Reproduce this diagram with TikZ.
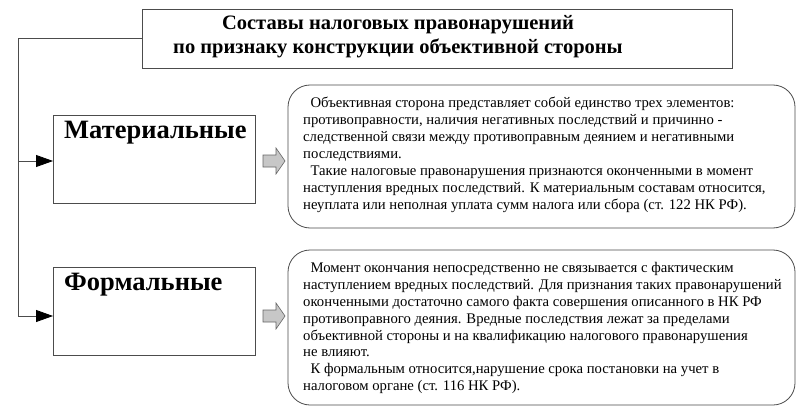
\documentclass[tikz,border=0pt]{standalone}
\usepackage{fontspec}
\setmainfont{Liberation Serif}
\usetikzlibrary{arrows.meta}
\begin{document}
\begin{tikzpicture}[x=1pt,y=-1pt,
  ln/.style={draw=black!70,line width=0.8pt},
  box/.style={ln,fill=white},
  body/.style={anchor=north west,align=left,font=\fontsize{14.7}{16.9}\selectfont,inner sep=0pt},
  big/.style={anchor=north west,inner sep=0pt,font=\fontsize{26.5}{28}\selectfont\bfseries},
  tip/.style={ln,-{Triangle[length=17pt,width=12pt,color=black,fill=black]}},
  garrow/.style={draw=black!60,fill=black!22,line width=0.6pt}]
\useasboundingbox (0,0) rectangle (808,409);
\fill[white] (0,0) rectangle (808,409);
\draw[box] (142,9) rectangle (732,68);
\node[inner sep=0pt,align=center,font=\fontsize{20.5}{24}\selectfont\bfseries] (title) at (398,37) {Составы налоговых правонарушений\\по признаку конструкции объективной стороны};
\coordinate (tl) at (142,38);
\coordinate (c) at (18,38);
\draw[box] (53,115) rectangle (255,203);
\node (m) at (53,161) {};
\node[big] (mt) at (64,121) {Материальные};
\draw[box] (53,267) rectangle (255,355);
\node (f) at (53,316) {};
\node[big] (ft) at (64,273) {Формальные};
\draw[ln] (tl) -- (c) |- (f);
\draw[tip] (18,161) -- (m.center);
\draw[tip] (18,316) -- (f.center);
\foreach \y in {161,316}{
  \draw[garrow] (263,\y-6) -- (276,\y-6) -- (276,\y-13) -- (285,\y) -- (276,\y+13) -- (276,\y+6) -- (263,\y+6) -- cycle;}
\draw[box,rounded corners=22pt] (288,85) rectangle (795,228);
\draw[box,rounded corners=22pt] (288,250) rectangle (795,405);
\node[body] (t1) at (303,97) {\ \ Объективная сторона представляет собой единство трех элементов:\\противоправности, наличия негативных последствий и причинно -\\следственной связи между противоправным деянием и негативными\\последствиями.\\\ \ Такие налоговые правонарушения признаются оконченными в момент\\наступления вредных последствий. К материальным составам относится,\\неуплата или неполная уплата сумм налога или сбора (ст. 122 НК РФ).};
\node[body] (t2) at (303,262) {\ \ Момент окончания непосредственно не связывается с фактическим\\наступлением вредных последствий. Для признания таких правонарушений\\оконченными достаточно самого факта совершения описанного в НК РФ\\противоправного деяния. Вредные последствия лежат за пределами\\объективной стороны и на квалификацию налогового правонарушения\\не влияют.\\\ \ К формальным относится,нарушение срока постановки на учет в\\налоговом органе (ст. 116 НК РФ).};
\end{tikzpicture}
\end{document}
